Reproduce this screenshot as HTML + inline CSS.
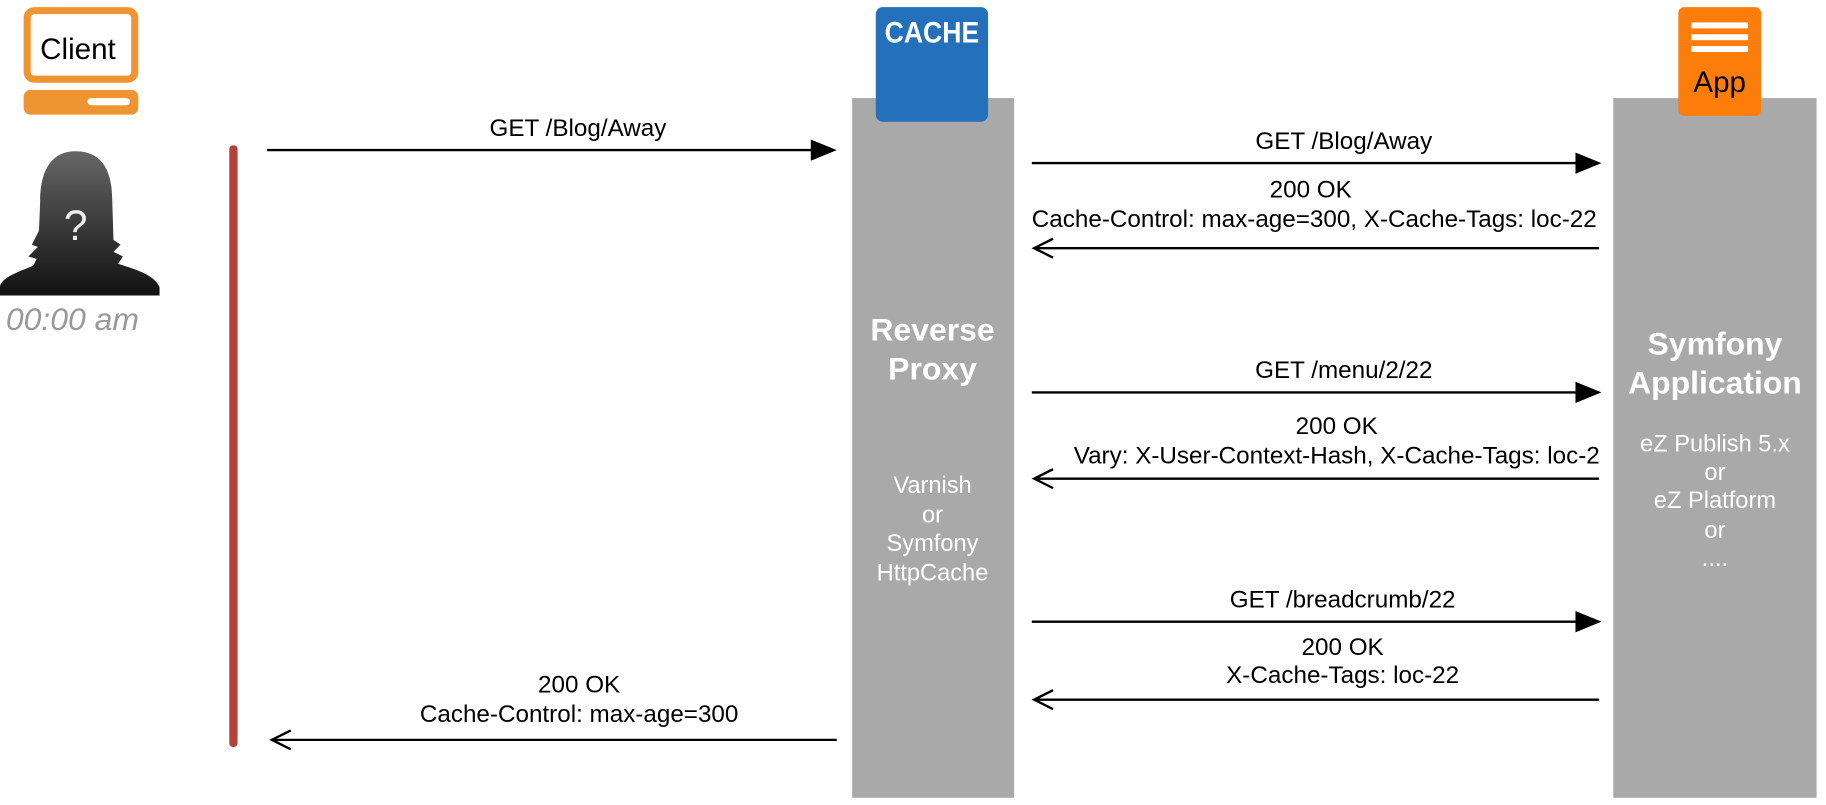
<!DOCTYPE html>
<html><head><meta charset="utf-8"><style>
html,body{margin:0;padding:0;background:#fff;overflow:hidden;width:1826px;height:805px}
#w{position:absolute;left:0;top:0;width:1545px;height:681px;transform:scale(1.1819);transform-origin:0 0;font-family:"Liberation Sans",sans-serif}
.a{position:absolute}
.t{position:absolute;font-size:20.5px;color:#000;white-space:nowrap;transform:translateX(-50%);line-height:22px}
.w{color:#fff}
</style></head><body><div id="w">
<!-- client -->
<div class="a" style="left:20px;top:6px;width:85px;height:52px;border:6px solid #ee9433;border-radius:9px;background:#fff"></div>
<div class="a" style="left:34px;top:28px;font-size:25px;line-height:28px;color:#000">Client</div>
<div class="a" style="left:20px;top:76px;width:97px;height:21px;background:#ee9433;border-radius:6px"></div>
<div class="a" style="left:74px;top:83px;width:36px;height:6px;background:#fff;border-radius:3px"></div>
<svg class="a" style="left:0;top:125px" width="140" height="130"><defs><linearGradient id="g" x1="0" y1="0" x2="0" y2="1"><stop offset="0" stop-color="#666"/><stop offset="1" stop-color="#111"/></linearGradient></defs>
<path d="M64 3 C40 3 34 25 34 45 L33 70 L27 82 L32 84 L24 92 L31 94 L28 100 C18 104 0 110 0 118 L0 125 L135 125 L135 118 C130 106 110 102 100 98 L104 92 L96 88 L102 82 L96 78 L95 45 C95 22 88 3 64 3Z" fill="url(#g)"/>
<text x="64" y="78" fill="#eee" font-size="36" text-anchor="middle" font-family="Liberation Sans">?</text></svg>
<div class="a" style="left:5px;top:255px;font-size:27px;font-style:italic;color:#999">00:00 am</div>
<div class="a" style="left:194px;top:123px;width:7px;height:509px;background:#b5413b;border-radius:3px"></div>
<!-- columns -->
<div class="a" style="left:721px;top:83px;width:137px;height:592px;background:#a9a9a9"></div>
<div class="a" style="left:741px;top:6px;width:95px;height:97px;background:#2470ba;border-radius:6px"></div>
<div class="a" style="left:741px;top:14px;width:95px;text-align:center;color:#fff;font-weight:bold;font-size:25px;transform:scaleX(.9)">CACHE</div>
<div class="a" style="left:1365px;top:83px;width:172px;height:592px;background:#a9a9a9"></div>
<div class="a" style="left:1420px;top:6px;width:70px;height:92px;background:#fd7d0a;border-radius:5px"></div>
<div class="a" style="left:1431px;top:19px;width:48px;height:5px;background:#fff"></div>
<div class="a" style="left:1431px;top:29px;width:48px;height:5px;background:#fff"></div>
<div class="a" style="left:1431px;top:39px;width:48px;height:5px;background:#fff"></div>
<div class="a" style="left:1420px;top:56px;width:70px;text-align:center;color:#000;font-size:25px">App</div>
<div class="t w" style="left:789px;top:263px;font-size:27px;font-weight:bold;line-height:33px;text-align:center">Reverse<br>Proxy</div>
<div class="t w" style="left:789px;top:399px;font-size:20px;line-height:24.5px;text-align:center">Varnish<br>or<br>Symfony<br>HttpCache</div>
<div class="t w" style="left:1451px;top:275px;font-size:27px;font-weight:bold;line-height:33px;text-align:center">Symfony<br>Application</div>
<div class="t w" style="left:1451px;top:364px;font-size:20px;line-height:24.2px;text-align:center">eZ Publish 5.x<br>or<br>eZ Platform<br>or<br>....</div>
<!-- arrows -->
<svg class="a" style="left:0;top:0" width="1545" height="681">
<g stroke="#000" stroke-width="2" fill="none">
<line x1="226" y1="127" x2="690" y2="127"/>
<line x1="873" y1="138" x2="1337" y2="138"/>
<line x1="873" y1="332" x2="1337" y2="332"/>
<line x1="873" y1="526" x2="1337" y2="526"/>
<line x1="875" y1="210" x2="1353" y2="210"/>
<line x1="875" y1="405" x2="1353" y2="405"/>
<line x1="875" y1="592" x2="1353" y2="592"/>
<line x1="230" y1="626" x2="708" y2="626"/>
<polyline points="891,202 875,210 891,218"/>
<polyline points="891,397 875,405 891,413"/>
<polyline points="891,584 875,592 891,600"/>
<polyline points="246,618 230,626 246,634"/>
</g>
<g fill="#000">
<polygon points="686,118 708,127 686,136"/>
<polygon points="1333,129 1355,138 1333,147"/>
<polygon points="1333,323 1355,332 1333,341"/>
<polygon points="1333,517 1355,526 1333,535"/>
</g></svg>
<div class="t" style="left:489px;top:98px">GET /Blog/Away</div>
<div class="t" style="left:1137px;top:109px">GET /Blog/Away</div>
<div class="t" style="left:1109px;top:150px">200 OK</div>
<div class="t" style="left:1112px;top:175px">Cache-Control: max-age=300, X-Cache-Tags: loc-22</div>
<div class="t" style="left:1137px;top:303px">GET /menu/2/22</div>
<div class="t" style="left:1131px;top:350px">200 OK</div>
<div class="t" style="left:1131px;top:375px;background:#fff">Vary: X-User-Context-Hash, X-Cache-Tags: loc-2</div>
<div class="t" style="left:1136px;top:497px">GET /breadcrumb/22</div>
<div class="t" style="left:1136px;top:537px">200 OK</div>
<div class="t" style="left:1136px;top:561px">X-Cache-Tags: loc-22</div>
<div class="t" style="left:490px;top:569px">200 OK</div>
<div class="t" style="left:490px;top:594px">Cache-Control: max-age=300</div>
</div></body></html>
